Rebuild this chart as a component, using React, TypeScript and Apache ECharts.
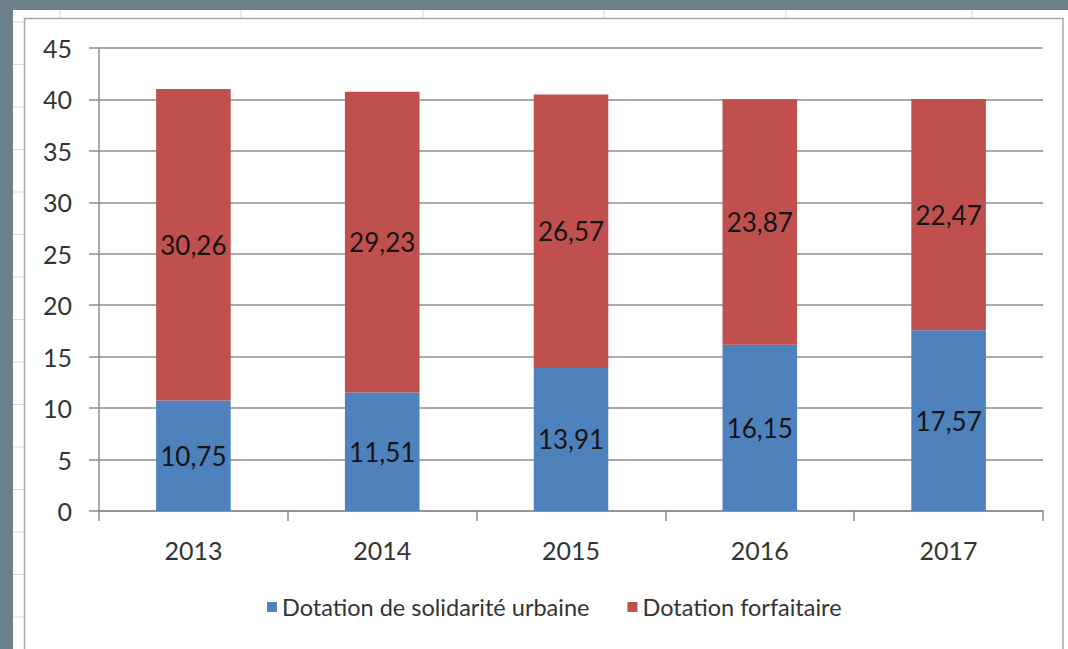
import React, { useEffect, useRef } from "react";
import * as echarts from "echarts";

const categories = ["2013", "2014", "2015", "2016", "2017"];
const dsuValues = [10.75, 11.51, 13.91, 16.15, 17.57];
const forfaitaireValues = [30.26, 29.23, 26.57, 23.87, 22.47];
const seriesNames = ["Dotation de solidarité urbaine", "Dotation forfaitaire"];

const FONT = "Lato, 'Open Sans', sans-serif";

export default function App() {
  const ref = useRef<HTMLDivElement>(null);

  useEffect(() => {
    document.body.style.margin = "0";
    const chart = echarts.init(ref.current!, null, { renderer: "svg" });

    const sheetLines: any[] = [];
    // faint spreadsheet grid lines visible around the chart
    [60, 241, 423, 604, 786, 972].forEach((x) =>
      sheetLines.push({
        type: "line",
        shape: { x1: x, y1: 10, x2: x, y2: 18 },
        style: { stroke: "#d9d9d9", lineWidth: 1 },
        silent: true,
      })
    );
    for (let y = 22; y < 649; y += 42.5) {
      sheetLines.push({
        type: "line",
        shape: { x1: 13, y1: y, x2: 24, y2: y },
        style: { stroke: "#d9d9d9", lineWidth: 1 },
        silent: true,
      });
    }

    const labelFmt = (p: any) => String(p.value).replace(".", ",");

    chart.setOption({
      animation: false,
      backgroundColor: "#6c808b",
      graphic: [
        {
          type: "rect",
          z: -10,
          shape: { x: 13, y: 10, width: 1060, height: 650 },
          style: { fill: "#ffffff" },
          silent: true,
        },
        ...sheetLines,
        {
          type: "rect",
          z: -5,
          shape: { x: 24.5, y: 18.5, width: 1038.5, height: 640 },
          style: { fill: "#ffffff", stroke: "#a6a6a6", lineWidth: 1.5 },
          silent: true,
        },
      ],
      grid: { left: 99, right: 25, top: 48, bottom: 138, containLabel: false },
      legend: {
        data: seriesNames,
        left: 262,
        top: 590,
        itemWidth: 10,
        itemHeight: 10,
        itemGap: 38,
        icon: "rect",
        textStyle: { fontFamily: FONT, fontSize: 23.5, color: "#333333" },
      },
      xAxis: {
        type: "category",
        data: categories,
        axisLine: { lineStyle: { color: "#8c8c8c", width: 1.5 } },
        axisTick: { show: true, length: 10, lineStyle: { color: "#8c8c8c", width: 1.5 } },
        axisLabel: { fontFamily: FONT, fontSize: 25, color: "#333333", margin: 26 },
      },
      yAxis: {
        type: "value",
        min: 0,
        max: 45,
        interval: 5,
        axisLine: { show: true, lineStyle: { color: "#8c8c8c", width: 1.5 } },
        axisTick: { show: true, length: 10, lineStyle: { color: "#8c8c8c", width: 1.5 } },
        splitLine: { lineStyle: { color: "#8c8c8c", width: 1.5 } },
        axisLabel: { fontFamily: FONT, fontSize: 25, color: "#333333", margin: 27 },
      },
      series: [
        {
          name: seriesNames[0],
          type: "bar",
          stack: "total",
          data: dsuValues,
          barWidth: "39.5%",
          itemStyle: { color: "#4f81bd" },
          label: {
            show: true,
            position: "inside",
            formatter: labelFmt,
            fontFamily: FONT,
            fontSize: 26,
            color: "#141414",
          },
        },
        {
          name: seriesNames[1],
          type: "bar",
          stack: "total",
          data: forfaitaireValues,
          barWidth: "39.5%",
          itemStyle: { color: "#c0504d" },
          label: {
            show: true,
            position: "inside",
            formatter: labelFmt,
            fontFamily: FONT,
            fontSize: 26,
            color: "#141414",
          },
        },
      ],
    });

    return () => chart.dispose();
  }, []);

  return <div ref={ref} style={{ width: 1068, height: 649 }} />;
}
